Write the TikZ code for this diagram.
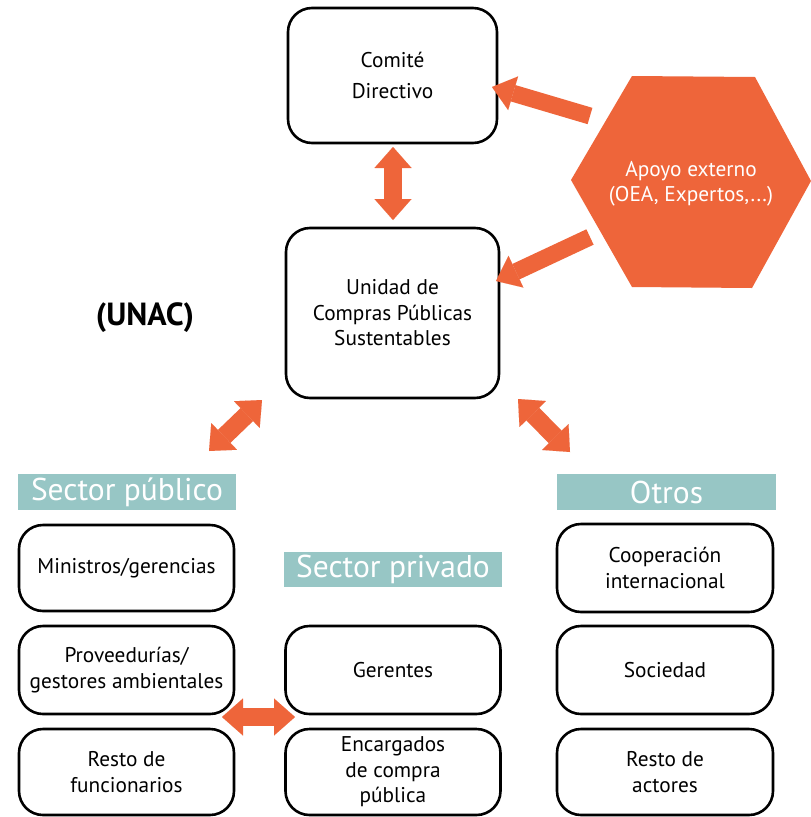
\documentclass[tikz,border=0pt]{standalone}
\usepackage{fontspec}
\setmainfont{PT Sans}
\usetikzlibrary{arrows.meta,calc}
\definecolor{orng}{HTML}{EE653A}
\definecolor{tealband}{HTML}{97C6C5}
\begin{document}
\begin{tikzpicture}[x=1pt,y=-1pt,
  box/.style={draw=black, line width=2.6pt, rounded corners=24pt, fill=white, align=center,
    font=\fontsize{21.3}{25.5}\selectfont, inner sep=0pt, minimum width=#1},
  box/.default=215pt,
  band/.style={fill=tealband, text=white, font=\fontsize{31.5}{33}\selectfont, inner sep=0pt,
    minimum height=36pt},
  dblarrow/.style={draw=orng, line width=18pt, {Triangle[length=21pt,width=37pt,line width=0.01pt]}-{Triangle[length=21pt,width=37pt,line width=0.01pt]}},
  sglarrow/.style={draw=orng, line width=17pt, -{Triangle[length=22pt,width=35pt,line width=0.01pt]}}
]
\useasboundingbox (0,0) rectangle (811,817);
\fill[white] (0,0) rectangle (811,817);

% top boxes
\node[box=209pt, minimum height=135pt, font=\fontsize{21.3}{31}\selectfont] (comite) at (392.5,75.5) {Comité\\Directivo};
\node[box=213pt, minimum height=170pt] (unidad) at (392.5,313) {Unidad de\\Compras Públicas\\Sustentables};

% hexagon
\fill[orng] (571,180) -- (632,76) -- (755,77) -- (811,181) -- (752,288) -- (632,287) -- cycle;
\node[text=white, align=center, font=\fontsize{21.3}{25.5}\selectfont] (apoyo) at (691,184) {Apoyo externo\\(OEA, Expertos,...)};

\node[font=\bfseries\fontsize{32}{34}\selectfont] (unac) at (145,318) {(UNAC)};

% bands
\node[band, minimum width=218pt] (publico) at (127,492) {Sector público};
\node[band, minimum width=219pt] (otros) at (666.5,492) {Otros};
\node[band, minimum width=218pt, minimum height=35pt] (privado) at (393,569.5) {Sector privado};

% left column
\node[box, minimum height=86pt] (ministros) at (126.5,568) {Ministros/gerencias};
\node[box, minimum height=88pt] (proveed) at (126.5,670) {Proveedurías/\\gestores ambientales};
\node[box, minimum height=86pt] (restof) at (126.5,772) {Resto de\\funcionarios};

% middle column
\node[box, minimum height=88pt] (gerentes) at (393,670) {Gerentes};
\node[box, minimum height=86pt] (encarg) at (393,772) {Encargados\\de compra\\pública};

% right column
\node[box=216pt, minimum height=88pt] (coop) at (665,568) {Cooperación\\internacional};
\node[box=216pt, minimum height=88pt] (soc) at (665,670) {Sociedad};
\node[box=216pt, minimum height=86pt] (restoa) at (665,772) {Resto de\\actores};

% arrow end points
\coordinate (cdA) at (393,147);
\coordinate (cdB) at (393,220);
\coordinate (hxA) at (590,116);
\coordinate (hxAt) at (492,87);
\coordinate (hxB) at (590,237);
\coordinate (hxBt) at (496,281);
\coordinate (lfA) at (262,400);
\coordinate (lfB) at (209,451);
\coordinate (rtA) at (518,399);
\coordinate (rtB) at (570,452);
\coordinate (hzA) at (222,717);
\coordinate (hzB) at (295,717);

\draw[dblarrow] (cdA) -- (cdB);
\draw[sglarrow] (hxA) -- (hxAt);
\draw[sglarrow] (hxB) -- (hxBt);
\draw[dblarrow] (lfA) -- (lfB);
\draw[dblarrow] (rtA) -- (rtB);
\draw[dblarrow] (hzA) -- (hzB);
\end{tikzpicture}
\end{document}
